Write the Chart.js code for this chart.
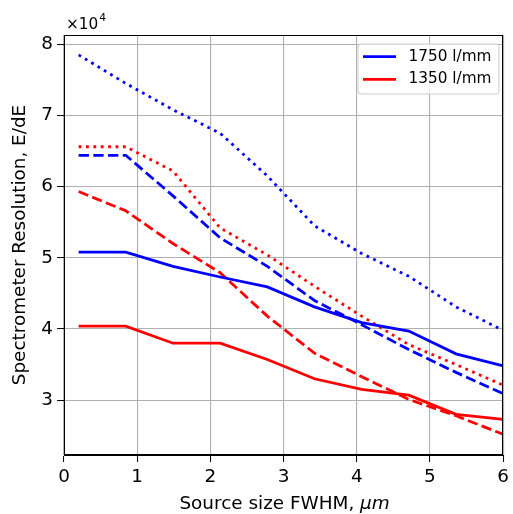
<!DOCTYPE html>
<html>
<head>
<meta charset="utf-8">
<script src="https://cdn.jsdelivr.net/npm/chart.js@4"></script>
<style>
html, body { margin: 0; padding: 0; background: #fff; }
</style>
</head>
<body>
<canvas id="chart" width="513" height="514"></canvas>
<script>
// source size FWHM (um)
var xs = [0.2, 0.844, 1.489, 2.133, 2.778, 3.422, 4.067, 4.711, 5.356, 6.0]

// resolution E/dE, 1750 l/mm grating
var blueSolid  = [50800, 50800, 48800, 47300, 45900, 43100, 40900, 39700, 36500, 34800]
var blueDashed = [64400, 64400, 58700, 52800, 48800, 44000, 40600, 37100, 33900, 30900]
var blueDotted = [78500, 74500, 70800, 67500, 61500, 54500, 50600, 47400, 43100, 39800]

// resolution E/dE, 1350 l/mm grating
var redSolid  = [40400, 40400, 38000, 38000, 35700, 33000, 31500, 30700, 28000, 27300]
var redDashed = [59300, 56600, 52000, 47900, 41800, 36600, 33300, 30100, 27800, 25200]
var redDotted = [65600, 65600, 62200, 54200, 50400, 46000, 41800, 37800, 35000, 32100]

var yTicks = [30000, 40000, 50000, 60000, 70000, 80000]
var legendLabels = ['1750 l/mm', '1350 l/mm']
var legendColors = ['#0000ff', '#ff0000']

var FONT = 'DejaVu Sans'
var FS = 18.4      // ticks and axis titles
var FS_LEG = 15.3  // legend and offset text
var LW = 2.78

function pts(ys) {
    return xs.map(function (x, i) { return { x: x, y: ys[i] } })
}

function ds(ys, color, dash) {
    return {
        data: pts(ys),
        borderColor: color,
        backgroundColor: color,
        borderWidth: LW,
        borderDash: dash,
        borderCapStyle: 'butt',
        pointRadius: 0,
        tension: 0,
        fill: false
    }
}

var dashed = [10.3, 4.4]
var dotted = [2.78, 4.6]

// frame, offset text, x title, legend
var extras = {
    id: 'extras',
    afterDraw: function (chart) {
        var c = chart.ctx
        var a = chart.chartArea
        c.save()
        c.strokeStyle = '#000'
        c.lineWidth = 1
        c.strokeRect(Math.round(a.left) + 0.5, Math.round(a.top) + 0.5,
            Math.round(a.right - a.left) - 1, Math.round(a.bottom - a.top) - 1)

        // x10^4 offset
        c.fillStyle = '#000'
        c.textBaseline = 'alphabetic'
        c.textAlign = 'left'
        c.font = FS_LEG + 'px "' + FONT + '"'
        c.fillText('\u00d710', 66, 29)
        var w = c.measureText('\u00d710').width
        c.font = (FS_LEG * 0.7) + 'px "' + FONT + '"'
        c.fillText('4', 66 + w + 1, 21)

        // x title with italic unit
        var t1 = 'Source size FWHM, '
        var t2 = '\u03bcm'
        c.font = FS + 'px "' + FONT + '"'
        var w1 = c.measureText(t1).width
        c.font = 'italic ' + FS + 'px "' + FONT + '"'
        var w2 = c.measureText(t2).width
        var x0 = (a.left + a.right) / 2 + 1 - (w1 + w2) / 2
        c.textBaseline = 'middle'
        c.font = FS + 'px "' + FONT + '"'
        c.fillText(t1, x0, 504.5)
        c.font = 'italic ' + FS + 'px "' + FONT + '"'
        c.fillText(t2, x0 + w1, 504.5)

        // legend
        var bx = 358, by = 44, bw = 141, bh = 50, r = 3
        c.beginPath()
        c.moveTo(bx + r, by)
        c.arcTo(bx + bw, by, bx + bw, by + bh, r)
        c.arcTo(bx + bw, by + bh, bx, by + bh, r)
        c.arcTo(bx, by + bh, bx, by, r)
        c.arcTo(bx, by, bx + bw, by, r)
        c.closePath()
        c.fillStyle = 'rgba(255,255,255,0.8)'
        c.fill()
        c.strokeStyle = '#cccccc'
        c.lineWidth = 1
        c.stroke()
        var rows = [56.7, 79.3]
        for (var i = 0; i < 2; i++) {
            c.beginPath()
            c.strokeStyle = legendColors[i]
            c.lineWidth = LW
            c.moveTo(363, rows[i])
            c.lineTo(396, rows[i])
            c.stroke()
            c.fillStyle = '#000'
            c.font = FS_LEG + 'px "' + FONT + '"'
            c.textBaseline = 'middle'
            c.fillText(legendLabels[i], 408.5, rows[i])
        }
        c.restore()
    }
}

var ctx = document.getElementById('chart').getContext('2d')
var chart = new Chart(ctx, {
    type: 'line',
    data: {
        datasets: [
            ds(blueSolid, '#0000ff', []),
            ds(redSolid, '#ff0000', []),
            ds(blueDashed, '#0000ff', dashed),
            ds(redDashed, '#ff0000', dashed),
            ds(blueDotted, '#0000ff', dotted),
            ds(redDotted, '#ff0000', dotted)
        ]
    },
    options: {
        responsive: false,
        animation: false,
        layout: { padding: { left: 0, right: 6, top: 35, bottom: 0 } },
        plugins: {
            legend: { display: false },
            tooltip: { enabled: false }
        },
        scales: {
            x: {
                type: 'linear',
                min: 0,
                max: 6,
                ticks: { stepSize: 1, color: '#000', padding: 4, font: { family: FONT, size: FS } },
                grid: { color: '#b0b0b0', lineWidth: 1.1, tickColor: '#000', tickLength: 7, tickWidth: 1 },
                border: { color: '#000', width: 1 },
                afterFit: function (s) { s.height = 59 }
            },
            y: {
                type: 'linear',
                min: 22290,
                max: 81300,
                afterBuildTicks: function (s) {
                    s.ticks = yTicks.map(function (v) { return { value: v } })
                },
                ticks: {
                    color: '#000',
                    padding: 4,
                    font: { family: FONT, size: FS },
                    callback: function (v) { return String(v / 10000) }
                },
                grid: { color: '#b0b0b0', lineWidth: 1.1, tickColor: '#000', tickLength: 7, tickWidth: 1 },
                border: { color: '#000', width: 1 },
                title: {
                    display: true,
                    text: 'Spectrometer Resolution, E/dE',
                    color: '#000',
                    font: { family: FONT, size: FS },
                    padding: { top: 9.4, bottom: 0 }
                },
                afterFit: function (s) { s.width = 64 }
            }
        }
    },
    plugins: [extras]
})
</script>
</body>
</html>
